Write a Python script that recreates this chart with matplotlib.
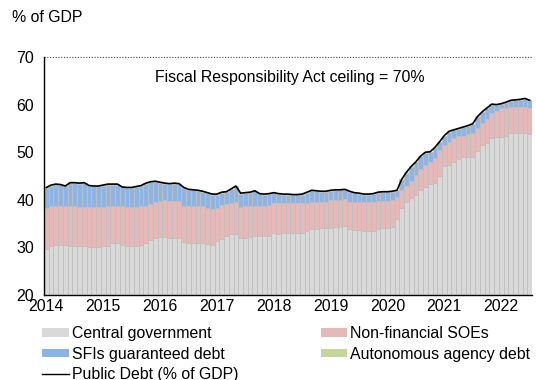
import matplotlib
matplotlib.use("Agg")
import matplotlib.pyplot as plt
import numpy as np
from matplotlib.patches import Patch
from matplotlib.lines import Line2D

plt.rcParams['font.family'] = ['Liberation Sans', 'DejaVu Sans']

years = ['2014', '2015', '2016', '2017', '2018', '2019', '2020', '2021', '2022']

# Central government debt (% of GDP), monthly Jan 2014 - Jul 2022
central = [
    29.7, 30.3, 30.4, 30.5, 30.4, 30.3, 30.3, 30.2, 30.2, 30.0, 30.0, 30.0,
    30.2, 30.3, 30.9, 30.9, 30.4, 30.3, 30.3, 30.3, 30.5, 30.9, 31.5, 32.0,
    32.1, 32.1, 32.0, 32.0, 31.9, 31.1, 31.0, 31.0, 31.0, 31.0, 30.7, 30.6,
    31.3, 31.8, 32.3, 32.8, 32.9, 32.0, 32.0, 32.1, 32.3, 32.3, 32.3, 32.5,
    33.0, 32.9, 33.0, 33.0, 33.0, 33.0, 33.0, 33.4, 33.8, 33.8, 34.0, 34.0,
    34.0, 34.2, 34.2, 34.4, 33.8, 33.6, 33.6, 33.5, 33.5, 33.5, 33.8, 34.0,
    34.0, 34.2, 36.0, 38.2, 39.5, 40.3, 41.0, 42.0, 42.7, 43.3, 43.6, 45.0,
    47.0, 47.3, 48.0, 48.5, 48.9, 49.0, 49.0, 50.3, 51.5, 52.0, 53.0, 53.1,
    53.2, 53.5, 54.0, 54.0, 54.0, 54.0, 53.8,
]
# Top of the Non-financial SOEs layer (cumulative)
soe_top = [
    38.2, 38.6, 38.8, 38.7, 38.7, 38.6, 38.6, 38.5, 38.5, 38.4, 38.4, 38.5,
    38.5, 38.6, 38.7, 38.7, 38.6, 38.4, 38.4, 38.5, 38.6, 38.8, 39.2, 39.6,
    39.8, 39.9, 39.8, 39.8, 39.7, 38.7, 38.6, 38.6, 38.6, 38.6, 38.3, 38.0,
    38.2, 39.0, 39.2, 39.3, 39.5, 38.4, 38.6, 38.7, 38.7, 38.7, 38.8, 39.0,
    39.3, 39.3, 39.3, 39.3, 39.3, 39.3, 39.3, 39.4, 39.6, 39.6, 39.6, 39.6,
    39.9, 40.0, 40.0, 40.1, 39.6, 39.5, 39.5, 39.5, 39.6, 39.6, 39.7, 39.7,
    39.8, 40.0, 40.5, 42.0, 43.0, 44.0, 45.2, 46.4, 47.4, 48.0, 48.7, 50.5,
    51.5, 52.2, 53.0, 53.3, 53.5, 53.8, 54.0, 55.0, 56.1, 57.0, 58.2, 58.7,
    59.2, 59.3, 59.4, 59.5, 59.6, 59.6, 59.3,
]
# Autonomous agency debt (% of GDP)
autonomous = [
    0.1, 0.1, 0.1, 0.1, 0.1, 0.1, 0.1, 0.1, 0.1, 0.1, 0.1, 0.1,
    0.1, 0.1, 0.1, 0.1, 0.1, 0.1, 0.1, 0.1, 0.1, 0.1, 0.1, 0.1,
    0.1, 0.1, 0.1, 0.1, 0.1, 0.1, 0.1, 0.1, 0.1, 0.1, 0.1, 0.1,
    0.1, 0.1, 0.1, 0.1, 0.1, 0.1, 0.1, 0.1, 0.1, 0.1, 0.1, 0.1,
    0.1, 0.1, 0.1, 0.1, 0.1, 0.1, 0.1, 0.1, 0.1, 0.1, 0.1, 0.1,
    0.1, 0.1, 0.1, 0.1, 0.1, 0.1, 0.1, 0.1, 0.1, 0.1, 0.1, 0.1,
    0.1, 0.1, 0.1, 0.1, 0.1, 0.1, 0.1, 0.1, 0.1, 0.1, 0.1, 0.1,
    0.1, 0.1, 0.1, 0.1, 0.1, 0.1, 0.1, 0.1, 0.1, 0.1, 0.1, 0.1,
    0.1, 0.1, 0.1, 0.1, 0.1, 0.1, 0.1,
]
# Public debt total (% of GDP)
public_debt = [
    42.6, 43.1, 43.3, 43.2, 42.9, 43.6, 43.6, 43.5, 43.6, 43.0, 42.9, 42.9,
    43.1, 43.3, 43.3, 43.3, 42.7, 42.6, 42.6, 42.8, 43.0, 43.5, 43.8, 43.9,
    43.7, 43.5, 43.4, 43.5, 43.4, 42.6, 42.2, 42.1, 42.0, 41.8, 41.5, 41.2,
    41.2, 41.6, 41.7, 42.3, 42.9, 41.4, 41.5, 41.6, 41.9, 41.3, 41.2, 41.3,
    41.5, 41.3, 41.2, 41.2, 41.1, 41.1, 41.2, 41.6, 42.0, 41.9, 41.8, 41.8,
    42.0, 42.1, 42.1, 42.2, 41.8, 41.5, 41.4, 41.2, 41.2, 41.3, 41.6, 41.7,
    41.7, 41.8, 42.0, 44.3, 45.8, 47.0, 48.0, 49.2, 50.0, 50.1, 51.0, 52.2,
    53.5, 54.4, 54.7, 55.0, 55.3, 55.6, 56.0, 57.5, 58.5, 59.3, 60.1, 60.0,
    60.2, 60.5, 60.9, 61.0, 61.1, 61.3, 60.9,
]
ceiling = 70

central = np.array(central)
soe_top = np.array(soe_top)
autonomous = np.array(autonomous)
public_debt = np.array(public_debt)
soe = soe_top - central
sfi = public_debt - soe_top - autonomous

x = np.arange(len(central))

C_GRAY = '#D9D9D9'
C_PINK = '#E6B9B8'
C_BLUE = '#8DB4E2'
C_GREEN = '#C3D69B'
EDGE = '#BFBFBF'
FS = 11.4

fig = plt.figure(figsize=(5.36, 3.80), dpi=100)
ax = fig.add_axes([44/536, 1-295/380, 488/536, 238/380])

kw = dict(width=1.0, edgecolor=EDGE, linewidth=0.6)
ax.bar(x, central, color=C_GRAY, **kw)
ax.bar(x, soe, bottom=central, color=C_PINK, **kw)
ax.bar(x, sfi, bottom=soe_top, color=C_BLUE, **kw)
ax.bar(x, autonomous, bottom=soe_top + sfi, color=C_GREEN, width=1.0, linewidth=0)
ax.plot(x, public_debt, color='black', lw=1.2)

ax.axhline(ceiling, color='#444444', lw=0.8, ls=(0, (1, 1.5)), clip_on=False)

ax.set_xlim(-0.5, len(central) - 0.5)
ax.set_ylim(20, 70)
ax.set_yticks([20, 30, 40, 50, 60, 70])
ax.set_xticks(np.arange(0, len(central), 12))
ax.set_xticklabels(years)
ax.tick_params(axis='both', length=0, labelsize=FS, colors='black')
ax.tick_params(axis='y', pad=7)
ax.tick_params(axis='x', pad=3)
for s in ['top', 'right']:
    ax.spines[s].set_visible(False)
ax.spines['left'].set_linewidth(1.0)
ax.spines['bottom'].set_linewidth(1.0)

ax.text(51.4, 65.6, 'Fiscal Responsibility Act ceiling = 70%', ha='center', va='center',
        fontsize=FS)
fig.text(12/536, 1-18/380, '% of GDP', ha='left', va='center', fontsize=FS)

handles = [
    Patch(facecolor=C_GRAY, edgecolor='none'),
    Patch(facecolor=C_BLUE, edgecolor='none'),
    Line2D([0], [0], color='black', lw=1.0),
    Patch(facecolor=C_PINK, edgecolor='none'),
    Patch(facecolor=C_GREEN, edgecolor='none'),
]
labels = ['Central government', 'SFIs guaranteed debt', 'Public Debt (% of GDP)',
          'Non-financial SOEs', 'Autonomous agency debt']
fig.legend(handles, labels, loc='upper left', bbox_to_anchor=(42/536, 1-326/380),
           ncol=2, frameon=False, fontsize=FS, handlelength=1.69, handleheight=0.45,
           handletextpad=0.19, labelspacing=0.36, columnspacing=5.2, borderpad=0,
           borderaxespad=0)

fig.savefig('out.png', dpi=100)
